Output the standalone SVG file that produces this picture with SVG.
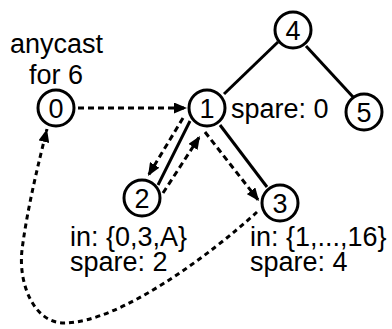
<svg xmlns="http://www.w3.org/2000/svg" width="392" height="329" viewBox="0 0 392 329">
<style>
.node circle{fill:#fff;stroke:#000;stroke-width:3}
.node text,.lbl{font-family:"Liberation Sans",Arial,sans-serif;font-size:27px;fill:#000}
.node text{text-anchor:middle}
.solid{stroke:#000;stroke-width:3;fill:none}
.dash{stroke:#000;stroke-width:3;fill:none;stroke-dasharray:6,4}
.dash2{stroke:#000;stroke-width:3;fill:none;stroke-dasharray:5,4}
</style>
<defs>
<marker id="ah" viewBox="0 0 13 11" refX="13" refY="5.5" markerWidth="13" markerHeight="11" markerUnits="userSpaceOnUse" orient="auto">
<path d="M0,0 L13,5.5 L0,11 Z" fill="#000"/>
</marker>
</defs>
<rect width="392" height="329" fill="#fff"/>
<g id="connectors">
<line class="solid" x1="224" y1="94" x2="278" y2="42"/>
<line class="solid" x1="306" y1="46" x2="354" y2="98"/>
<line class="solid" x1="158" y1="185" x2="190" y2="121"/>
<line class="solid" x1="220" y1="125" x2="267" y2="187"/>
<line class="dash" x1="78" y1="108" x2="187" y2="108" marker-end="url(#ah)"/>
<line class="dash" x1="183" y1="118" x2="148" y2="176" marker-end="url(#ah)"/>
<line class="dash" x1="163" y1="193" x2="200" y2="136" marker-end="url(#ah)"/>
<line class="dash" x1="205" y1="132" x2="259" y2="201" marker-end="url(#ah)"/>
<path class="dash2" d="M257,212 C210,255 120,322 65,323 C35,324 18,285 22,250 C27,210 38,165 47,129" marker-end="url(#ah)"/>
</g>
<g id="node0" class="node"><circle cx="56" cy="108" r="18"/><text x="56" y="118">0</text></g>
<g id="node1" class="node"><circle cx="207" cy="108" r="18"/><text x="207" y="118">1</text></g>
<g id="node2" class="node"><circle cx="142" cy="198" r="18"/><text x="142" y="208">2</text></g>
<g id="node3" class="node"><circle cx="280" cy="203" r="18"/><text x="280" y="213">3</text></g>
<g id="node4" class="node"><circle cx="293" cy="30" r="18"/><text x="293" y="40">4</text></g>
<g id="node5" class="node"><circle cx="364" cy="112" r="18"/><text x="364" y="122">5</text></g>
<g id="labels">
<text class="lbl" x="10" y="53">anycast</text>
<text class="lbl" x="29" y="84">for 6</text>
<text class="lbl" x="231" y="118">spare: 0</text>
<text class="lbl" x="70" y="246">in: {0,3,A}</text>
<text class="lbl" x="70" y="271">spare: 2</text>
<text class="lbl" x="250" y="246">in: {1,...,16}</text>
<text class="lbl" x="250" y="271">spare: 4</text>
</g>
</svg>
